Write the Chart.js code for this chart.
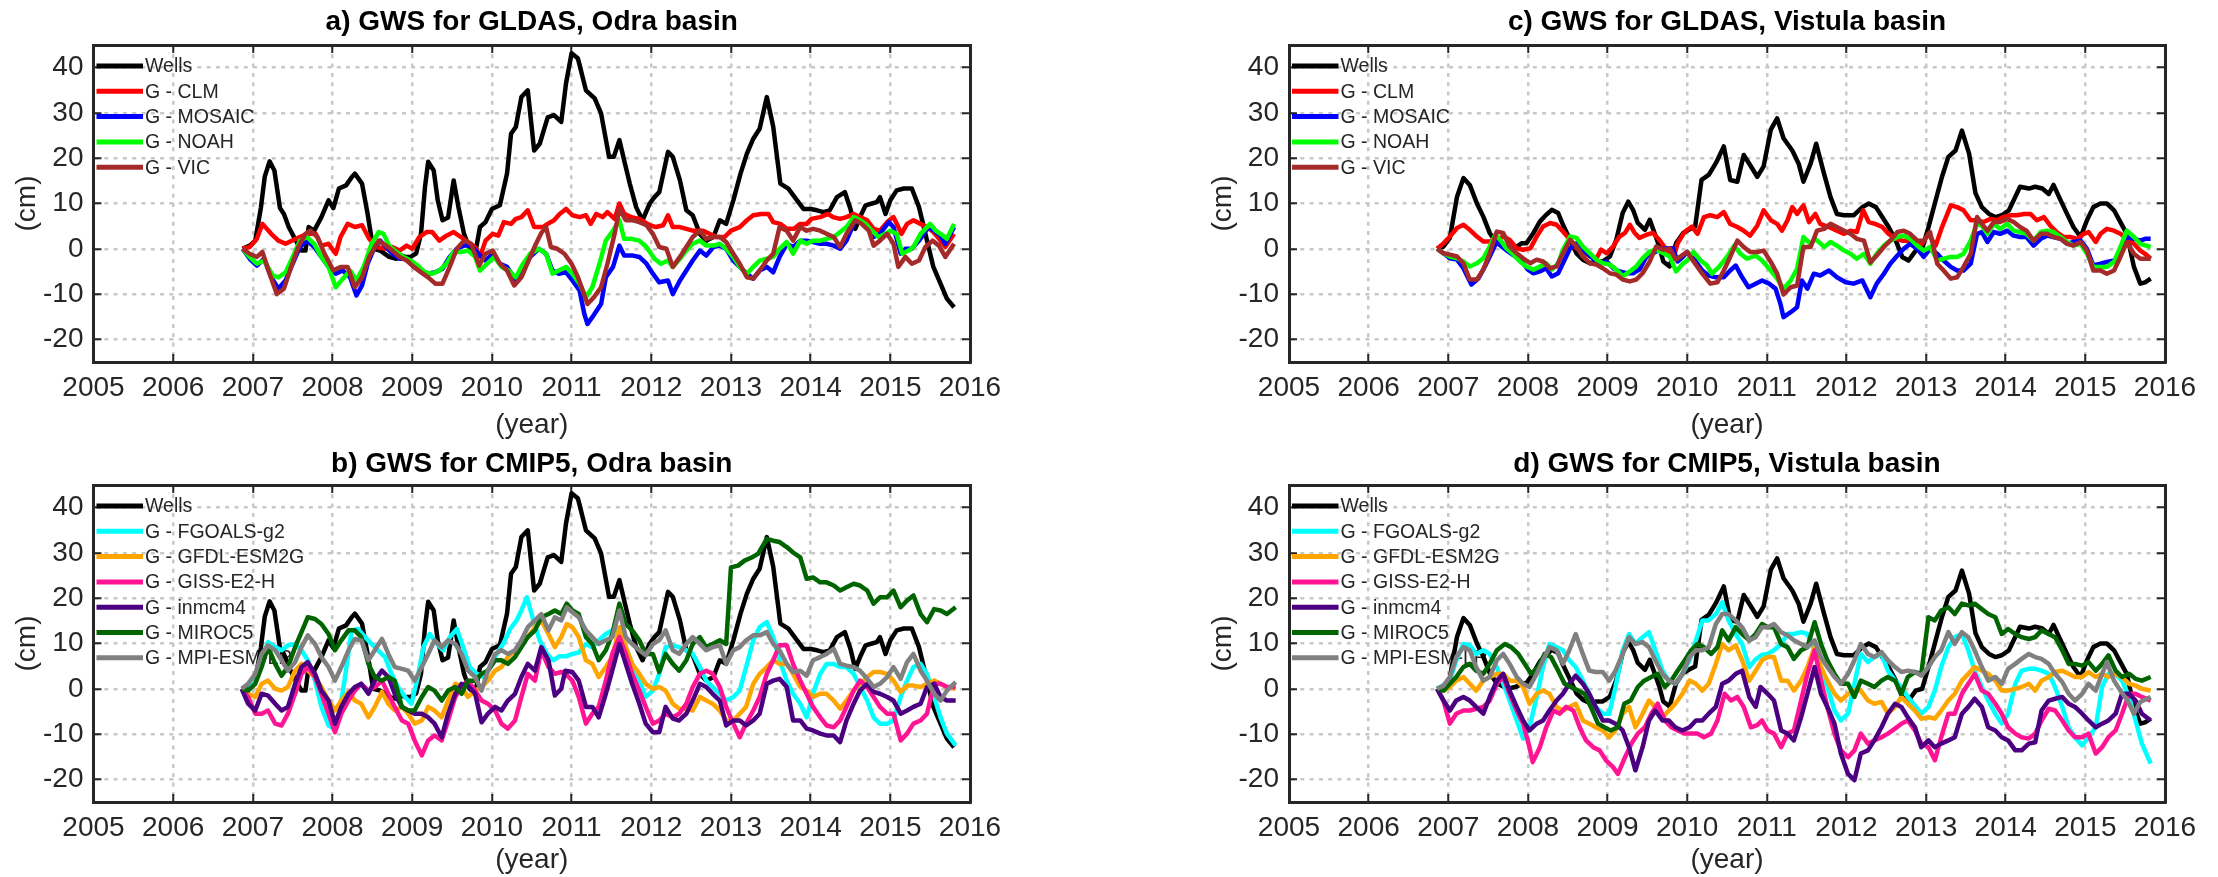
<!DOCTYPE html>
<html>
<head>
<meta charset="utf-8">
<script src="https://cdn.jsdelivr.net/npm/chart.js@4.4.1/dist/chart.umd.min.js"></script>
<style>
html,body{margin:0;padding:0;background:#fff;overflow:hidden;width:2218px;height:877px;}
.wrap{position:absolute;}
</style>
</head>
<body>
<div class="wrap" style="left:0;top:0;width:1109px;height:442px"><canvas id="ca"></canvas></div>
<div class="wrap" style="left:1196px;top:0;width:1022px;height:442px"><canvas id="cc"></canvas></div>
<div class="wrap" style="left:0;top:442px;width:1109px;height:435px"><canvas id="cb"></canvas></div>
<div class="wrap" style="left:1196px;top:442px;width:1022px;height:435px"><canvas id="cd"></canvas></div>
<script>
// ---------- tick labels / categories ----------
const yearTicks = [2005,2006,2007,2008,2009,2010,2011,2012,2013,2014,2015,2016];
const cmTicks = [-20,-10,0,10,20,30,40];
const gldasLabels = ['Wells','G - CLM','G - MOSAIC','G - NOAH','G - VIC'];
const cmipLabels = ['Wells','G - FGOALS-g2','G - GFDL-ESM2G','G - GISS-E2-H','G - inmcm4','G - MIROC5','G - MPI-ESM-LR'];
const panelTitles = ['a) GWS for GLDAS, Odra basin','b) GWS for CMIP5, Odra basin','c) GWS for GLDAS, Vistula basin','d) GWS for CMIP5, Vistula basin'];

// ---------- series values: [year, cm] ----------
const odraWells = [[2006.87,0],[2006.96,0.7],[2007.03,1.8],[2007.10,9],[2007.15,16],[2007.21,19.3],[2007.27,17.3],[2007.34,9],[2007.39,7.7],[2007.45,4.8],[2007.54,1.8],[2007.61,-0.4],[2007.66,-0.4],[2007.70,4.8],[2007.77,4],[2007.86,7],[2007.95,10.7],[2008.01,9],[2008.08,13.3],[2008.17,14],[2008.24,15.8],[2008.28,16.6],[2008.37,14.4],[2008.44,7.7],[2008.51,0],[2008.60,-0.4],[2008.71,-1.8],[2008.80,-2.2],[2008.87,-1.5],[2008.91,-1.8],[2008.98,-1.8],[2009.05,-1],[2009.11,3.3],[2009.16,13.6],[2009.20,19.2],[2009.27,17.3],[2009.32,10.7],[2009.38,6.3],[2009.45,6.9],[2009.52,15.1],[2009.58,9.2],[2009.65,3.3],[2009.72,0],[2009.79,-1.1],[2009.85,4.8],[2009.92,5.9],[2010.0,8.8],[2010.1,9.6],[2010.19,16.6],[2010.24,25.4],[2010.30,26.9],[2010.37,33.5],[2010.45,35],[2010.53,21.7],[2010.60,23.2],[2010.70,29],[2010.78,29.5],[2010.87,28],[2010.93,36.5],[2011.0,43.2],[2011.08,42],[2011.18,35],[2011.29,33.2],[2011.37,29.9],[2011.47,20.3],[2011.53,20.3],[2011.60,24],[2011.66,19.5],[2011.73,14.4],[2011.81,9.2],[2011.89,6.3],[2011.98,10],[2012.04,11.4],[2012.10,12.5],[2012.21,21.4],[2012.27,20.3],[2012.36,15.1],[2012.44,8.5],[2012.52,7.4],[2012.61,3.3],[2012.69,1.8],[2012.78,2.6],[2012.86,6.3],[2012.94,5.5],[2013.03,10.7],[2013.12,16.6],[2013.20,21],[2013.28,24.3],[2013.36,26.5],[2013.45,33.5],[2013.53,27],[2013.62,14.4],[2013.72,13.3],[2013.83,10.7],[2013.91,8.8],[2014.0,8.8],[2014.08,8.5],[2014.16,8.1],[2014.24,8.5],[2014.33,11.4],[2014.43,12.5],[2014.50,8.8],[2014.56,4.4],[2014.62,7],[2014.69,9.6],[2014.77,10],[2014.83,10.3],[2014.87,11.4],[2014.94,7.7],[2015.0,10.7],[2015.08,12.9],[2015.17,13.3],[2015.27,13.3],[2015.36,9.2],[2015.44,3.3],[2015.54,-4],[2015.63,-7.7],[2015.71,-11],[2015.80,-12.9]];
const odraCLM = [[2006.87,0],[2006.96,0.4],[2007.05,2.2],[2007.12,5.5],[2007.23,3.3],[2007.32,1.8],[2007.41,1.1],[2007.54,2.2],[2007.68,3.3],[2007.79,3.3],[2007.86,0.7],[2007.95,1.1],[2008.04,-1.1],[2008.10,2.6],[2008.19,5.5],[2008.28,4.8],[2008.37,5.2],[2008.46,2.2],[2008.55,0.4],[2008.66,0],[2008.75,0.4],[2008.84,-0.4],[2008.93,0.7],[2009.0,0],[2009.09,2.6],[2009.18,3.7],[2009.25,3.7],[2009.34,1.8],[2009.43,2.9],[2009.52,3.7],[2009.61,2.6],[2009.70,1.5],[2009.79,0.4],[2009.85,-1.8],[2009.92,1.8],[2010.01,3.3],[2010.08,2.9],[2010.15,5.9],[2010.24,5.5],[2010.30,6.6],[2010.37,7],[2010.45,8.5],[2010.53,4.8],[2010.64,4.8],[2010.70,5.5],[2010.78,6.3],[2010.85,7.7],[2010.93,8.8],[2011.01,7.4],[2011.10,7],[2011.18,7.4],[2011.24,5.5],[2011.31,7.7],[2011.39,7],[2011.45,8.1],[2011.54,6.6],[2011.60,10],[2011.66,7.7],[2011.75,7],[2011.85,6.6],[2011.98,5.2],[2012.06,4.8],[2012.15,5.2],[2012.21,7.4],[2012.27,4.8],[2012.36,4.8],[2012.44,4.4],[2012.52,4],[2012.65,4],[2012.73,3.3],[2012.82,2.6],[2012.92,2.6],[2013.0,4],[2013.11,4.8],[2013.20,6.3],[2013.28,7.4],[2013.38,7.7],[2013.47,7.7],[2013.53,5.9],[2013.62,5.5],[2013.70,4.4],[2013.79,4.4],[2013.87,5.5],[2013.95,5.5],[2014.01,6.6],[2014.12,7],[2014.22,7.7],[2014.28,7],[2014.37,6.6],[2014.45,7],[2014.54,7.7],[2014.62,7],[2014.71,6.3],[2014.79,4.4],[2014.87,4],[2014.96,5.9],[2015.04,7],[2015.10,4.8],[2015.14,3.3],[2015.21,5.5],[2015.29,6.3],[2015.38,5.5],[2015.46,4.8],[2015.54,3.7],[2015.63,1.8],[2015.69,0.4],[2015.80,3.3]];
const odraMOSAIC = [[2006.87,0],[2006.96,-2.2],[2007.05,-3.7],[2007.14,-2.2],[2007.23,-6.3],[2007.32,-8.8],[2007.41,-7],[2007.50,-3.3],[2007.59,0.4],[2007.68,1.8],[2007.77,0.4],[2007.86,-1.8],[2007.95,-4],[2008.04,-5.5],[2008.13,-4.8],[2008.22,-6.3],[2008.30,-10.3],[2008.37,-8.1],[2008.44,-3.3],[2008.53,0.4],[2008.60,1.8],[2008.67,0.4],[2008.75,-1.1],[2008.84,-2.2],[2008.93,-2.2],[2009.02,-4],[2009.11,-4.8],[2009.20,-5.5],[2009.29,-5.2],[2009.38,-4.4],[2009.47,-1.8],[2009.56,0],[2009.65,0.7],[2009.74,0.7],[2009.83,-1.1],[2009.92,-2.6],[2010.01,-1.1],[2010.10,-3.3],[2010.19,-4],[2010.30,-7],[2010.39,-4],[2010.48,-1.8],[2010.59,0],[2010.68,-1.1],[2010.76,-4.8],[2010.84,-5.5],[2010.93,-5.2],[2011.01,-7],[2011.10,-9.2],[2011.16,-14.4],[2011.20,-16.6],[2011.26,-15.1],[2011.37,-12.2],[2011.43,-6.3],[2011.52,-4],[2011.60,0.7],[2011.66,-1.5],[2011.77,-1.5],[2011.85,-1.8],[2011.94,-3.3],[2012.02,-5.5],[2012.10,-7.4],[2012.21,-7],[2012.27,-10],[2012.36,-7],[2012.44,-4.8],[2012.52,-2.6],[2012.61,-0.4],[2012.69,-1.5],[2012.78,0.4],[2012.86,0.7],[2012.94,0],[2013.03,-2.6],[2013.11,-4],[2013.20,-5.5],[2013.28,-6.6],[2013.36,-4.8],[2013.45,-4],[2013.53,-5.2],[2013.61,-1.8],[2013.70,1.1],[2013.78,0.4],[2013.87,1.8],[2013.95,1.8],[2014.03,1.5],[2014.12,1.1],[2014.20,1.1],[2014.29,0.7],[2014.37,0],[2014.45,1.8],[2014.56,6.3],[2014.64,5.9],[2014.73,4.8],[2014.79,2.6],[2014.87,3.3],[2014.98,5.9],[2015.04,4.8],[2015.13,-1.1],[2015.19,0],[2015.27,0],[2015.36,1.8],[2015.48,4.8],[2015.55,4],[2015.63,2.9],[2015.69,1.1],[2015.80,4.8]];
const odraNOAH = [[2006.87,0],[2006.96,-1.8],[2007.05,-3.3],[2007.14,-2.6],[2007.25,-5.9],[2007.32,-6.3],[2007.41,-5.2],[2007.50,-1.8],[2007.59,1.8],[2007.68,2.6],[2007.77,1.1],[2007.86,-1.8],[2007.95,-4],[2008.04,-8.5],[2008.13,-6.6],[2008.22,-4.8],[2008.30,-7],[2008.39,-4],[2008.49,1.1],[2008.58,3.7],[2008.64,3.3],[2008.71,0.7],[2008.80,-0.7],[2008.89,-1.8],[2008.98,-2.6],[2009.07,-3.7],[2009.16,-5.2],[2009.25,-5.5],[2009.34,-4.8],[2009.43,-3.3],[2009.52,-0.7],[2009.61,-0.7],[2009.70,-0.4],[2009.79,-1.8],[2009.85,-4.8],[2009.94,-3.3],[2010.03,-1.8],[2010.12,-4],[2010.21,-4.8],[2010.30,-6.3],[2010.39,-3.3],[2010.48,-1.1],[2010.59,0],[2010.68,-1.1],[2010.76,-5.5],[2010.84,-4.8],[2010.93,-4],[2011.01,-5.5],[2011.10,-7.7],[2011.18,-10.7],[2011.26,-8.5],[2011.35,-3.3],[2011.43,1.8],[2011.52,4],[2011.60,6.3],[2011.66,2.2],[2011.75,2.2],[2011.85,1.8],[2011.94,0.4],[2012.04,-2.2],[2012.12,-3.3],[2012.21,-2.6],[2012.27,-4],[2012.36,-2.2],[2012.44,-0.4],[2012.52,1.1],[2012.61,1.8],[2012.69,0.7],[2012.78,0.7],[2012.86,1.1],[2012.94,0],[2013.03,-1.8],[2013.11,-4],[2013.20,-5.5],[2013.28,-4],[2013.36,-2.6],[2013.45,-2.2],[2013.53,-1.8],[2013.61,0],[2013.70,1.5],[2013.78,-1.1],[2013.87,1.8],[2013.95,1.1],[2014.03,1.8],[2014.12,1.8],[2014.20,2.2],[2014.29,2.6],[2014.37,3.7],[2014.45,4.8],[2014.54,7],[2014.62,6.3],[2014.69,5.5],[2014.77,4],[2014.85,2.6],[2014.94,3.3],[2015.0,4],[2015.08,3.3],[2015.15,-1.1],[2015.23,-0.4],[2015.29,0.4],[2015.38,3.3],[2015.50,5.5],[2015.57,4],[2015.63,3.3],[2015.71,2.2],[2015.80,5.5]];
const odraVIC = [[2006.87,0],[2006.96,-1.1],[2007.05,-1.8],[2007.12,-0.7],[2007.21,-5.5],[2007.30,-10],[2007.39,-8.8],[2007.48,-4],[2007.57,0.4],[2007.66,3.3],[2007.72,4],[2007.81,2.6],[2007.90,-1.1],[2008.01,-4.8],[2008.10,-4],[2008.19,-4],[2008.28,-8.5],[2008.37,-6.3],[2008.46,-1.8],[2008.58,1.8],[2008.67,0.7],[2008.75,-0.4],[2008.84,-1.8],[2008.93,-2.6],[2009.02,-4],[2009.11,-5.2],[2009.20,-6.3],[2009.29,-7.7],[2009.38,-7.7],[2009.47,-4],[2009.56,0],[2009.65,1.8],[2009.74,1.1],[2009.84,-3.7],[2009.92,-1.1],[2010.01,-0.4],[2010.10,-3.3],[2010.19,-4.8],[2010.28,-8.1],[2010.37,-6.3],[2010.46,-2.6],[2010.55,1],[2010.62,3.5],[2010.68,4.8],[2010.74,0.4],[2010.82,0],[2010.91,-1.1],[2011.0,-3.3],[2011.08,-6.3],[2011.14,-9.2],[2011.20,-12.2],[2011.28,-10.7],[2011.37,-8.5],[2011.45,-3.3],[2011.54,3.3],[2011.60,8.8],[2011.68,6.3],[2011.77,6.3],[2011.85,5.9],[2011.94,5.2],[2012.02,3.3],[2012.10,0.4],[2012.19,0],[2012.27,-4],[2012.36,-1.8],[2012.44,0.4],[2012.52,2.6],[2012.61,4],[2012.69,2.2],[2012.78,2.6],[2012.86,2.6],[2012.94,1.5],[2013.03,-1.1],[2013.11,-3.3],[2013.20,-6.3],[2013.28,-6.6],[2013.36,-4.8],[2013.45,-2.6],[2013.53,-1.1],[2013.61,4.8],[2013.70,4],[2013.78,1.8],[2013.87,4.8],[2013.95,4],[2014.03,4.4],[2014.12,4],[2014.20,3.3],[2014.29,2.6],[2014.37,0.4],[2014.45,3.3],[2014.56,6.3],[2014.64,5.5],[2014.73,4],[2014.79,0.7],[2014.87,1.8],[2014.96,3.3],[2015.04,1.1],[2015.10,-4],[2015.19,-1.8],[2015.27,-3.3],[2015.36,-2.6],[2015.44,0.4],[2015.53,1.8],[2015.61,0.7],[2015.69,-1.8],[2015.80,1.1]];

const vistWells = [[2006.86,0],[2006.94,0.5],[2007.02,2.4],[2007.11,11.5],[2007.19,15.6],[2007.27,14.1],[2007.36,10],[2007.44,7.1],[2007.52,3.5],[2007.61,1.2],[2007.69,0.5],[2007.77,0.1],[2007.86,0.5],[2007.92,1.2],[2007.98,1.2],[2008.07,3.5],[2008.15,6],[2008.23,7.5],[2008.30,8.6],[2008.38,7.9],[2008.44,5.3],[2008.53,2],[2008.61,-1],[2008.69,-2.4],[2008.78,-3.2],[2008.86,-2.8],[2008.94,-2.8],[2009.03,-1.7],[2009.11,2],[2009.19,7.9],[2009.26,10.4],[2009.32,8.6],[2009.38,5.7],[2009.47,4.2],[2009.53,6.4],[2009.59,3.5],[2009.65,0.5],[2009.70,-2.8],[2009.78,-3.9],[2009.86,1.2],[2009.95,3.5],[2010.02,4.2],[2010.10,4.9],[2010.18,15.2],[2010.27,16.3],[2010.36,18.9],[2010.46,22.6],[2010.54,15.2],[2010.63,14.8],[2010.71,20.7],[2010.79,18.5],[2010.88,15.9],[2010.96,18.2],[2011.05,26.3],[2011.13,28.8],[2011.21,24.4],[2011.32,21.7],[2011.40,18.8],[2011.46,14.8],[2011.55,18.8],[2011.62,23.2],[2011.72,16.5],[2011.80,11.4],[2011.88,7.7],[2011.97,7.4],[2012.09,7.4],[2012.20,9.2],[2012.28,10],[2012.37,9.2],[2012.45,7],[2012.53,4.8],[2012.62,1.8],[2012.70,-1.8],[2012.78,-2.6],[2012.87,-0.4],[2012.95,0],[2013.03,4.8],[2013.12,10.7],[2013.20,15.9],[2013.28,20.3],[2013.37,21.7],[2013.45,26.1],[2013.54,21],[2013.62,12.3],[2013.70,9.2],[2013.79,7.7],[2013.87,7],[2013.95,7.4],[2014.04,8.5],[2014.10,10.7],[2014.18,13.7],[2014.29,13.3],[2014.37,13.7],[2014.46,13.3],[2014.54,12.1],[2014.60,14.1],[2014.69,10.7],[2014.77,7.7],[2014.85,4.8],[2014.94,2.6],[2015.02,6.3],[2015.10,9.2],[2015.19,10],[2015.27,10],[2015.36,8.5],[2015.44,5.9],[2015.52,3.3],[2015.61,-4],[2015.69,-7.7],[2015.75,-7.4],[2015.82,-6.6]];
const vistCLM = [[2006.86,0],[2006.94,1.2],[2007.02,2.7],[2007.11,4.6],[2007.19,5.3],[2007.27,4.2],[2007.36,2.7],[2007.44,1.6],[2007.52,1.6],[2007.61,2],[2007.69,2.7],[2007.77,2],[2007.86,0.1],[2007.94,-0.2],[2008.03,0.1],[2008.11,2.7],[2008.19,4.9],[2008.28,5.7],[2008.36,5.3],[2008.44,3.8],[2008.53,2],[2008.61,0.1],[2008.69,-0.6],[2008.78,-1.7],[2008.86,-2.1],[2008.92,-0.2],[2008.99,-1],[2009.07,0.5],[2009.15,2.7],[2009.22,3.5],[2009.28,5.3],[2009.34,3.5],[2009.40,2.4],[2009.49,3.1],[2009.57,3.5],[2009.65,2],[2009.74,-0.2],[2009.82,-2.4],[2009.88,1.2],[2009.96,3.5],[2010.0,4.2],[2010.06,4.9],[2010.13,3.3],[2010.21,7],[2010.29,7.4],[2010.38,7],[2010.46,8.1],[2010.54,5.5],[2010.63,4.8],[2010.71,4],[2010.79,2.9],[2010.88,5.1],[2010.96,8.5],[2011.05,6.3],[2011.13,5.5],[2011.19,4],[2011.26,6.3],[2011.32,9.2],[2011.38,7.7],[2011.46,9.6],[2011.53,5.9],[2011.61,7.7],[2011.67,5.5],[2011.78,4.8],[2011.88,4],[2011.97,3.3],[2012.05,4],[2012.13,3.7],[2012.21,8.5],[2012.28,5.9],[2012.36,5.5],[2012.45,4.8],[2012.53,3.3],[2012.62,2.2],[2012.70,1.8],[2012.78,1.8],[2012.87,1.8],[2012.95,1.1],[2013.03,3.3],[2013.12,0.7],[2013.20,4.8],[2013.31,9.6],[2013.39,9.2],[2013.47,8.5],[2013.56,6.3],[2013.64,6.3],[2013.72,5.9],[2013.81,6.6],[2013.89,6.3],[2013.97,7],[2014.06,7.4],[2014.14,7.4],[2014.23,7.7],[2014.31,7.7],[2014.39,6.3],[2014.48,7],[2014.56,5.1],[2014.64,3.7],[2014.73,2.6],[2014.81,2.6],[2014.90,2.2],[2014.98,3.3],[2015.04,3.7],[2015.13,1.5],[2015.19,3.3],[2015.27,4.4],[2015.36,4],[2015.44,3.3],[2015.52,2.2],[2015.61,1.1],[2015.69,-0.4],[2015.75,-1.1],[2015.82,-2.2]];
const vistMOSAIC = [[2006.86,0],[2006.94,-1],[2007.02,-2.1],[2007.11,-2.4],[2007.19,-4.3],[2007.29,-7.9],[2007.38,-6.5],[2007.46,-3.9],[2007.54,-1],[2007.61,1.6],[2007.67,0.5],[2007.75,-0.6],[2007.84,-1.7],[2007.92,-2.8],[2008.0,-4.6],[2008.07,-5.4],[2008.15,-5],[2008.23,-4.3],[2008.30,-6.1],[2008.38,-5.4],[2008.44,-3.2],[2008.53,0.1],[2008.61,1.2],[2008.67,0.1],[2008.76,-1.3],[2008.84,-2.4],[2008.90,-3.2],[2008.99,-2.8],[2009.07,-4.3],[2009.15,-5],[2009.24,-5.4],[2009.32,-5.4],[2009.40,-4.6],[2009.49,-1.7],[2009.57,-1],[2009.65,-0.2],[2009.74,0.1],[2009.82,0.1],[2009.88,-2.8],[2009.95,-1.7],[2010.0,-0.7],[2010.10,-2.6],[2010.19,-4.8],[2010.27,-5.9],[2010.36,-6.3],[2010.46,-6.3],[2010.54,-4.8],[2010.61,-3.7],[2010.69,-6.3],[2010.77,-8.5],[2010.86,-7.7],[2010.94,-7],[2011.03,-7.7],[2011.11,-8.8],[2011.17,-12.1],[2011.21,-15.1],[2011.30,-14],[2011.38,-12.9],[2011.44,-7],[2011.51,-8.8],[2011.59,-5.5],[2011.67,-5.9],[2011.78,-4.8],[2011.88,-6.3],[2011.99,-7.4],[2012.09,-7.7],[2012.20,-7],[2012.30,-10.7],[2012.38,-7.7],[2012.47,-5.5],[2012.55,-3.3],[2012.64,-1.5],[2012.72,0],[2012.80,1.1],[2012.89,0],[2012.97,-1.8],[2013.05,0],[2013.14,-1.1],[2013.22,-2.6],[2013.31,-4],[2013.39,-4.8],[2013.47,-4.8],[2013.56,-3.3],[2013.64,3.3],[2013.70,3.7],[2013.77,1.5],[2013.85,3.7],[2013.93,3.3],[2014.02,4],[2014.10,2.9],[2014.18,2.6],[2014.26,2.6],[2014.35,0.7],[2014.44,2.2],[2014.52,2.9],[2014.60,2.6],[2014.69,2.2],[2014.77,1.1],[2014.85,1.5],[2014.94,1.8],[2015.02,0],[2015.10,-3.7],[2015.19,-3.3],[2015.27,-2.9],[2015.36,-2.6],[2015.44,-1.1],[2015.52,2.6],[2015.61,2.2],[2015.69,1.8],[2015.75,2.2],[2015.82,2.2]];
const vistNOAH = [[2006.86,0],[2006.94,-1],[2007.02,-1.7],[2007.11,-2.1],[2007.19,-2.8],[2007.27,-3.9],[2007.36,-3.2],[2007.44,-2.1],[2007.52,0.5],[2007.59,3.1],[2007.65,2],[2007.73,0.1],[2007.82,-1.3],[2007.90,-2.8],[2007.98,-3.9],[2008.07,-4.6],[2008.15,-3.9],[2008.23,-3.2],[2008.30,-4.6],[2008.38,-3.2],[2008.44,-0.2],[2008.53,2.7],[2008.61,2.4],[2008.69,0.5],[2008.78,-1],[2008.86,-2.4],[2008.94,-3.2],[2009.03,-3.5],[2009.11,-4.6],[2009.19,-6.1],[2009.28,-5],[2009.36,-3.9],[2009.44,-2.1],[2009.53,-0.6],[2009.61,-0.2],[2009.70,-1],[2009.78,-1.7],[2009.86,-5],[2009.95,-3.2],[2010.0,-2.6],[2010.08,-0.7],[2010.17,-2.6],[2010.25,-3.7],[2010.31,-5.5],[2010.40,-4],[2010.50,-1.8],[2010.59,0.7],[2010.67,-1.1],[2010.75,-2.2],[2010.86,-1.5],[2010.94,-2.6],[2011.05,-4.8],[2011.13,-6.6],[2011.21,-8.8],[2011.30,-7],[2011.38,-4.4],[2011.46,2.6],[2011.55,1.1],[2011.61,2.2],[2011.72,0.4],[2011.80,1.5],[2011.88,0.7],[2011.97,-0.4],[2012.05,-1.1],[2012.13,-2.2],[2012.22,-1.1],[2012.30,-3.3],[2012.38,-1.1],[2012.47,0.7],[2012.55,1.8],[2012.64,2.6],[2012.72,2.9],[2012.80,2.2],[2012.89,0.7],[2012.97,-0.4],[2013.05,0.4],[2013.14,-2.6],[2013.22,-2.2],[2013.31,-1.8],[2013.39,-1.8],[2013.47,-1.1],[2013.56,1.8],[2013.64,5.5],[2013.70,5.1],[2013.77,3.3],[2013.85,5.5],[2013.93,4.4],[2014.02,5.5],[2014.10,4],[2014.18,3.7],[2014.26,3.3],[2014.35,1.8],[2014.44,3.7],[2014.52,4],[2014.60,3.7],[2014.69,2.6],[2014.77,1.5],[2014.85,0.7],[2014.94,1.1],[2015.02,-1.1],[2015.10,-4],[2015.19,-4],[2015.27,-4],[2015.36,-2.9],[2015.44,0.4],[2015.52,4],[2015.61,2.6],[2015.69,1.1],[2015.82,0.4]];
const vistVIC = [[2006.86,0],[2006.94,-1],[2007.02,-1.3],[2007.11,-1.7],[2007.19,-3.2],[2007.27,-6.8],[2007.36,-6.8],[2007.44,-4.6],[2007.52,-1],[2007.61,3.8],[2007.69,3.5],[2007.77,0.5],[2007.86,-1],[2007.94,-2.1],[2008.03,-3.2],[2008.11,-2.4],[2008.19,-2.8],[2008.28,-4.3],[2008.36,-3.9],[2008.44,-1],[2008.53,2],[2008.61,0.5],[2008.69,-1.7],[2008.78,-3.2],[2008.86,-3.5],[2008.94,-4.3],[2009.03,-5.4],[2009.11,-5.7],[2009.19,-6.8],[2009.28,-7.2],[2009.36,-6.8],[2009.44,-5.4],[2009.53,-2.8],[2009.61,0.5],[2009.70,-0.2],[2009.78,0.1],[2009.86,-2.4],[2009.95,-1.3],[2010.0,-0.7],[2010.10,-3.3],[2010.19,-5.5],[2010.29,-7.7],[2010.38,-7.4],[2010.46,-4.8],[2010.54,-1.8],[2010.63,1.8],[2010.71,0.4],[2010.79,-0.7],[2010.88,-0.7],[2010.96,-0.4],[2011.05,-2.9],[2011.13,-5.5],[2011.21,-10.1],[2011.30,-8.5],[2011.38,-8.1],[2011.46,0.4],[2011.55,0.4],[2011.63,4],[2011.72,4.4],[2011.80,5.5],[2011.88,4.8],[2011.97,4],[2012.05,3.3],[2012.13,2.2],[2012.22,1.8],[2012.30,-3],[2012.38,-1.5],[2012.47,0.4],[2012.55,1.8],[2012.64,3.7],[2012.72,4],[2012.80,3.3],[2012.89,1.8],[2012.97,1.8],[2013.05,3.7],[2013.14,-3.3],[2013.22,-4.8],[2013.31,-6.6],[2013.39,-6.3],[2013.47,-4],[2013.56,-1.1],[2013.64,7],[2013.70,5.5],[2013.77,4],[2013.85,5.9],[2013.93,5.9],[2014.02,6.6],[2014.10,5.9],[2014.18,4.8],[2014.26,4],[2014.35,1.8],[2014.44,3.3],[2014.52,3.3],[2014.60,2.6],[2014.69,2.2],[2014.77,1.1],[2014.85,0.7],[2014.94,1.5],[2015.02,-0.4],[2015.10,-4.8],[2015.19,-4.8],[2015.27,-5.5],[2015.36,-4.8],[2015.44,-1.8],[2015.52,1.5],[2015.61,-1.1],[2015.69,-2.2],[2015.82,-2.2]];

const odraFGOALS = [[2006.86,0],[2006.94,-0.4],[2007.03,1.8],[2007.11,6.3],[2007.19,10.3],[2007.28,9.2],[2007.36,8.5],[2007.44,9.6],[2007.53,9.9],[2007.61,8.5],[2007.69,6.3],[2007.78,1.8],[2007.86,-4],[2007.95,-8.1],[2007.99,-8.5],[2008.07,-7],[2008.15,1.8],[2008.24,12.9],[2008.32,13.2],[2008.41,11.4],[2008.49,9.9],[2008.57,8.5],[2008.66,7],[2008.74,3.3],[2008.82,0.4],[2008.91,-1.8],[2008.99,-3.3],[2009.07,2.6],[2009.14,9.2],[2009.22,12.1],[2009.31,9.9],[2009.39,8.5],[2009.47,11.4],[2009.56,13.2],[2009.64,9.2],[2009.72,4.8],[2009.81,3.3],[2009.89,2.6],[2009.98,4.8],[2010.06,7.7],[2010.14,9.9],[2010.23,13.2],[2010.31,15.1],[2010.37,17.3],[2010.44,20.2],[2010.52,15.1],[2010.60,10.7],[2010.69,7.7],[2010.77,6.3],[2010.85,7.2],[2010.94,7.2],[2011.01,7.7],[2011.09,8],[2011.18,9.9],[2011.26,9.2],[2011.34,10.7],[2011.43,12.1],[2011.51,12.9],[2011.60,13.6],[2011.68,9.2],[2011.76,5.5],[2011.85,1.8],[2011.93,-1.8],[2012.02,-0.4],[2012.10,3.3],[2012.18,9.2],[2012.27,9.6],[2012.35,9.2],[2012.44,8.5],[2012.52,7.7],[2012.61,4.8],[2012.69,1.8],[2012.77,0.4],[2012.86,-1.1],[2012.94,-2.6],[2013.03,-1.8],[2013.11,-0.4],[2013.19,4.8],[2013.28,10.7],[2013.36,13.6],[2013.45,14.7],[2013.53,11.4],[2013.61,6.3],[2013.70,1.8],[2013.78,-1.1],[2013.87,-3.3],[2013.95,-6.3],[2014.03,-1.1],[2014.12,3.3],[2014.20,5.5],[2014.29,5.5],[2014.37,4.8],[2014.45,4.8],[2014.54,3.3],[2014.62,0.4],[2014.71,-2.6],[2014.79,-6.3],[2014.87,-7.7],[2014.96,-7.7],[2015.04,-7],[2015.13,-1.8],[2015.21,1.8],[2015.29,4.8],[2015.38,5.5],[2015.46,3.3],[2015.55,-1.8],[2015.63,-6.3],[2015.71,-9.9],[2015.82,-12.5]];
const odraGFDL = [[2006.86,0],[2006.94,-1.1],[2007.03,-1.8],[2007.11,1.1],[2007.19,1.8],[2007.28,0],[2007.36,-0.4],[2007.44,0.4],[2007.53,4],[2007.61,5.5],[2007.69,4],[2007.78,2.6],[2007.86,0.4],[2007.95,-2.6],[2008.03,-4.8],[2008.11,-2.6],[2008.20,-0.7],[2008.28,-2.6],[2008.36,-3.3],[2008.45,-6.3],[2008.53,-4],[2008.62,-0.7],[2008.70,-3.3],[2008.78,-4.8],[2008.87,-4],[2008.95,-5.5],[2009.03,-7.7],[2009.12,-7],[2009.20,-4],[2009.28,-4.8],[2009.37,-6.3],[2009.45,-2.6],[2009.54,1.1],[2009.62,0.4],[2009.70,-1.8],[2009.79,-0.4],[2009.87,0.4],[2009.95,1.8],[2010.04,4],[2010.12,4.8],[2010.20,7],[2010.29,8.5],[2010.37,9.9],[2010.45,11.4],[2010.54,13.6],[2010.62,15.1],[2010.71,12.1],[2010.79,9.2],[2010.87,11.4],[2010.94,14.3],[2011.01,13.6],[2011.09,11.4],[2011.18,6.3],[2011.26,5.5],[2011.34,2.6],[2011.43,4.8],[2011.51,7],[2011.60,13.6],[2011.68,9.2],[2011.76,5.5],[2011.85,3.3],[2011.93,1.1],[2012.02,0],[2012.10,0.4],[2012.18,-0.4],[2012.27,-3.3],[2012.35,-4.4],[2012.44,-4.4],[2012.52,-4.8],[2012.61,-1.8],[2012.69,-2.6],[2012.77,-3.3],[2012.86,-4.8],[2012.94,-7],[2013.03,-7],[2013.11,-5.5],[2013.19,-4],[2013.28,1.1],[2013.36,3.3],[2013.45,4.8],[2013.53,6.3],[2013.61,5.5],[2013.70,5.5],[2013.78,3.3],[2013.87,0.4],[2013.95,-0.4],[2014.03,-1.8],[2014.12,-1.1],[2014.20,-1.1],[2014.29,-2.6],[2014.37,-4.4],[2014.45,-2.6],[2014.54,-0.4],[2014.62,1.1],[2014.71,2.6],[2014.79,3.7],[2014.87,3.7],[2014.96,3.3],[2015.04,1.8],[2015.13,-0.7],[2015.21,0.7],[2015.29,0.7],[2015.38,0.4],[2015.46,1.1],[2015.55,1.8],[2015.63,1.1],[2015.71,0.4],[2015.82,0]];
const odraGISS = [[2006.86,0],[2006.94,-1.8],[2007.03,-5.5],[2007.11,-5.5],[2007.19,-4.8],[2007.28,-7.7],[2007.36,-8.1],[2007.44,-5.5],[2007.53,-1.1],[2007.61,3.3],[2007.69,4.8],[2007.78,2.6],[2007.86,-1.1],[2007.95,-5.5],[2008.03,-9.6],[2008.11,-5.5],[2008.20,-2.6],[2008.28,-0.4],[2008.36,1.1],[2008.45,-0.4],[2008.53,0.4],[2008.62,1.8],[2008.70,-1.1],[2008.78,-4],[2008.87,-7],[2008.95,-7.7],[2009.03,-11.4],[2009.12,-14.7],[2009.20,-11.4],[2009.28,-10.3],[2009.37,-11.4],[2009.45,-7],[2009.54,-1.8],[2009.62,0.4],[2009.70,1.8],[2009.79,-0.4],[2009.87,-2.6],[2009.95,-3.3],[2010.04,-4.8],[2010.12,-7.7],[2010.20,-8.8],[2010.29,-7],[2010.37,-1.8],[2010.45,3.3],[2010.54,1.8],[2010.62,8.5],[2010.71,4.8],[2010.79,3.3],[2010.87,3.7],[2010.94,3],[2011.01,1.8],[2011.09,-1.8],[2011.18,-7.7],[2011.26,-5.5],[2011.34,-4],[2011.43,1.8],[2011.51,7.7],[2011.60,11.4],[2011.68,7.7],[2011.76,3.3],[2011.85,-0.4],[2011.93,-4],[2012.02,-7.7],[2012.10,-7],[2012.18,-5.5],[2012.27,-6.3],[2012.35,-5.5],[2012.44,-3.3],[2012.52,0.4],[2012.61,3.3],[2012.69,4],[2012.77,3.3],[2012.86,0.4],[2012.94,-4],[2013.03,-7.7],[2013.11,-10.7],[2013.19,-7.7],[2013.28,-4.8],[2013.36,-1.8],[2013.45,3.3],[2013.53,6.3],[2013.61,9.6],[2013.70,9.6],[2013.78,5.5],[2013.87,1.8],[2013.95,-1.1],[2014.03,-4],[2014.12,-6.3],[2014.20,-8.1],[2014.29,-8.5],[2014.37,-7],[2014.45,-4],[2014.54,-0.4],[2014.62,1.8],[2014.71,0.4],[2014.79,-1.8],[2014.87,-4],[2014.96,-5.5],[2015.04,-5.5],[2015.13,-11.4],[2015.21,-9.9],[2015.29,-7.7],[2015.38,-7],[2015.46,-5.5],[2015.55,1.1],[2015.63,1.1],[2015.71,0.4],[2015.82,0.4]];
const odraINMCM4 = [[2006.86,0],[2006.94,-3.3],[2007.03,-4.8],[2007.11,-1.1],[2007.19,-1.5],[2007.28,-3.3],[2007.36,-4.8],[2007.44,-4],[2007.53,1.1],[2007.61,4.8],[2007.69,5.9],[2007.78,3.3],[2007.86,-0.4],[2007.95,-2.6],[2008.03,-7.7],[2008.11,-4],[2008.20,-1.1],[2008.28,0.4],[2008.36,1.1],[2008.45,-1.1],[2008.53,1.8],[2008.62,4],[2008.70,2.6],[2008.78,-1.1],[2008.87,-4],[2008.95,-4.8],[2009.03,-5.5],[2009.12,-5.5],[2009.20,-6.3],[2009.28,-7.7],[2009.37,-10.7],[2009.45,-5.5],[2009.54,-1.1],[2009.62,1.1],[2009.70,0.7],[2009.79,-1.1],[2009.87,-7.4],[2009.95,-5.5],[2010.04,-4],[2010.12,-4.8],[2010.20,-2.6],[2010.29,-1.1],[2010.37,2.6],[2010.45,5.5],[2010.54,4],[2010.62,9.2],[2010.71,6.3],[2010.79,-1.5],[2010.87,0],[2010.92,4],[2011.01,3.7],[2011.09,1.8],[2011.18,-4],[2011.26,-4],[2011.34,-6.3],[2011.43,-1.1],[2011.51,4],[2011.60,9.9],[2011.68,5.5],[2011.76,1.1],[2011.85,-3.3],[2011.93,-7.7],[2012.02,-9.6],[2012.10,-9.6],[2012.18,-4],[2012.27,-6.6],[2012.35,-7],[2012.44,-5.5],[2012.52,-2.6],[2012.61,1.1],[2012.69,0.4],[2012.77,-1.1],[2012.86,-2.6],[2012.94,-8.1],[2013.03,-7],[2013.11,-7],[2013.19,-8.1],[2013.28,-7],[2013.36,-5.5],[2013.45,1.1],[2013.53,1.8],[2013.61,2.2],[2013.70,0.4],[2013.78,-7],[2013.87,-7],[2013.95,-8.8],[2014.03,-9.2],[2014.12,-9.9],[2014.20,-10.3],[2014.29,-10.3],[2014.37,-11.8],[2014.45,-7],[2014.54,-3.3],[2014.62,-0.4],[2014.71,1.1],[2014.79,-0.7],[2014.87,-1.1],[2014.96,-1.8],[2015.04,-2.6],[2015.13,-5.5],[2015.21,-4.8],[2015.29,-4],[2015.38,-3.3],[2015.46,0.4],[2015.55,1.1],[2015.63,-1.8],[2015.71,-2.6],[2015.82,-2.6]];
const odraMIROC5 = [[2006.86,0],[2006.94,-0.4],[2007.03,1.1],[2007.11,4.8],[2007.19,9.2],[2007.28,5.5],[2007.36,2.9],[2007.44,4.8],[2007.53,9.2],[2007.61,12.5],[2007.69,15.8],[2007.78,15.4],[2007.86,14.3],[2007.95,12.1],[2008.03,8.5],[2008.11,10.7],[2008.20,12.9],[2008.28,12.9],[2008.36,11.4],[2008.45,5.5],[2008.53,2.6],[2008.62,1.8],[2008.70,2.6],[2008.78,1.8],[2008.87,-4],[2008.95,-4.8],[2009.03,-4.8],[2009.12,-1.8],[2009.20,0.4],[2009.28,-0.4],[2009.37,-2.6],[2009.45,-0.4],[2009.54,0.4],[2009.62,-1.1],[2009.70,1.8],[2009.79,1.8],[2009.87,3.3],[2009.95,4],[2010.04,6.3],[2010.12,6.3],[2010.20,5.5],[2010.29,7],[2010.37,9.2],[2010.45,11.4],[2010.54,12.9],[2010.62,15.8],[2010.71,16.5],[2010.79,17.3],[2010.87,16.5],[2010.94,18.8],[2011.01,17.3],[2011.09,16.5],[2011.18,11.4],[2011.26,9.9],[2011.34,6.3],[2011.43,8.5],[2011.51,12.1],[2011.60,18.8],[2011.68,14.3],[2011.76,12.9],[2011.85,10.7],[2011.93,7.7],[2012.02,7.7],[2012.10,3.7],[2012.18,7.7],[2012.27,5.5],[2012.35,4],[2012.44,6.3],[2012.52,9.9],[2012.61,11.4],[2012.69,9.2],[2012.77,9.9],[2012.86,10.7],[2012.94,9.9],[2013.00,26.8],[2013.09,27.2],[2013.17,28.3],[2013.26,29],[2013.34,29.8],[2013.45,33.1],[2013.53,32.7],[2013.61,32.4],[2013.70,31.3],[2013.78,30.1],[2013.87,29],[2013.95,24.3],[2014.03,24.6],[2014.12,23.5],[2014.20,23.5],[2014.29,22.8],[2014.37,21.7],[2014.45,22.4],[2014.54,23.2],[2014.62,22.8],[2014.71,21.7],[2014.79,18.8],[2014.87,20.2],[2014.96,20.2],[2015.04,21.7],[2015.13,18],[2015.21,19.5],[2015.29,20.6],[2015.38,16.5],[2015.46,14.7],[2015.55,17.6],[2015.63,17.3],[2015.71,16.5],[2015.82,18]];
const odraMPI = [[2006.86,0],[2006.94,1.1],[2007.03,3.3],[2007.11,7.7],[2007.19,9.6],[2007.28,8.5],[2007.36,6.3],[2007.44,4],[2007.53,5.9],[2007.61,9.2],[2007.69,11.8],[2007.78,9.9],[2007.86,7],[2007.95,4.8],[2008.03,1.8],[2008.11,4.8],[2008.20,8.5],[2008.28,11],[2008.36,10.7],[2008.45,6.3],[2008.53,8.5],[2008.62,11],[2008.70,7.7],[2008.78,4.8],[2008.87,4.4],[2008.95,4],[2009.03,1.8],[2009.12,4.8],[2009.20,7.7],[2009.28,10.7],[2009.37,9.2],[2009.45,10.7],[2009.54,9.9],[2009.62,7.7],[2009.70,4],[2009.79,2.6],[2009.87,-0.4],[2009.95,4],[2010.04,7.7],[2010.12,8.5],[2010.20,7.7],[2010.29,8.5],[2010.37,10.7],[2010.45,13.6],[2010.54,15.1],[2010.62,16.5],[2010.71,12.9],[2010.79,15.8],[2010.87,15.1],[2010.94,18],[2011.01,16.9],[2011.09,15.8],[2011.18,12.9],[2011.26,11.4],[2011.34,9.9],[2011.43,10.7],[2011.51,11.4],[2011.60,17.3],[2011.68,11.4],[2011.76,9.9],[2011.85,8.5],[2011.93,7.4],[2012.02,9.9],[2012.10,10.7],[2012.18,12.9],[2012.27,8.5],[2012.35,7.7],[2012.44,9.9],[2012.52,11.4],[2012.61,9.9],[2012.69,8.5],[2012.77,9.2],[2012.86,9.6],[2012.94,5.5],[2013.03,8.5],[2013.11,9.2],[2013.19,10.7],[2013.28,11.8],[2013.36,11.8],[2013.45,12.5],[2013.53,9.9],[2013.61,8.5],[2013.70,5.5],[2013.78,3.7],[2013.87,4],[2013.95,2.9],[2014.03,6.3],[2014.12,7],[2014.20,7.7],[2014.29,8.8],[2014.37,5.5],[2014.45,5.1],[2014.54,4.8],[2014.62,4],[2014.71,2.2],[2014.79,0.4],[2014.87,1.1],[2014.96,2.6],[2015.04,4.8],[2015.13,2.2],[2015.21,5.9],[2015.29,7.7],[2015.38,4],[2015.46,1.8],[2015.55,-1.1],[2015.63,-2.6],[2015.71,-0.4],[2015.82,1.5]];

const vistFGOALS = [[2006.86,0],[2006.94,0.7],[2007.02,1.8],[2007.10,6.3],[2007.19,9.9],[2007.27,9.6],[2007.35,7.7],[2007.44,8.5],[2007.52,7.7],[2007.61,4.8],[2007.69,1.1],[2007.77,-2.6],[2007.86,-7],[2007.94,-11],[2008.02,-8.5],[2008.11,-1.8],[2008.19,4.8],[2008.27,9.9],[2008.36,9.2],[2008.44,8.5],[2008.52,6.3],[2008.60,4.8],[2008.69,1.8],[2008.77,-1.1],[2008.85,-4],[2008.94,-5.5],[2009.02,-5.5],[2009.10,0.4],[2009.19,8.5],[2009.27,12.1],[2009.35,9.9],[2009.44,11.4],[2009.52,12.5],[2009.60,8.5],[2009.69,4],[2009.77,1.8],[2009.85,1.1],[2009.94,3.3],[2010.03,6.3],[2010.11,10.7],[2010.19,15.1],[2010.27,15.1],[2010.36,16.5],[2010.44,19.1],[2010.52,15.1],[2010.61,12.1],[2010.69,9.9],[2010.78,4.8],[2010.86,6.5],[2010.94,7.5],[2011.01,7.7],[2011.09,8.5],[2011.18,9.9],[2011.26,12.1],[2011.34,12.1],[2011.43,12.5],[2011.51,12.1],[2011.60,8.5],[2011.68,4],[2011.76,0.4],[2011.85,-4.8],[2011.93,-7],[2012.02,-5.5],[2012.10,1.1],[2012.18,7.7],[2012.27,5.9],[2012.35,7],[2012.44,7.7],[2012.52,4],[2012.61,1.8],[2012.69,0.4],[2012.77,-1.8],[2012.86,-3.7],[2012.94,-5.5],[2013.03,-4],[2013.11,-0.4],[2013.19,4.8],[2013.28,9.2],[2013.36,11.4],[2013.45,12.1],[2013.53,8.5],[2013.61,4],[2013.70,0.4],[2013.78,-2.6],[2013.87,-5.5],[2013.95,-7.7],[2014.03,-5.5],[2014.12,1.1],[2014.20,4],[2014.29,4.4],[2014.37,4.4],[2014.45,4],[2014.54,3.3],[2014.62,0.4],[2014.71,-4],[2014.79,-8.5],[2014.87,-10.7],[2014.96,-12.5],[2015.04,-10.7],[2015.13,-8.5],[2015.21,0.4],[2015.29,3.3],[2015.38,3.3],[2015.46,1.8],[2015.55,-1.8],[2015.63,-7],[2015.71,-12.1],[2015.82,-16.5]];
const vistGFDL = [[2006.86,0],[2006.94,-0.4],[2007.02,0.4],[2007.10,1.8],[2007.19,2.6],[2007.27,1.1],[2007.35,-0.4],[2007.44,1.8],[2007.52,2.6],[2007.61,3.3],[2007.69,3.3],[2007.77,1.8],[2007.86,1.8],[2007.94,0.4],[2008.02,-3.3],[2008.11,-1.1],[2008.19,-0.4],[2008.27,-1.1],[2008.36,-4],[2008.44,-4.8],[2008.52,-4],[2008.60,-3.3],[2008.69,-7],[2008.77,-7.7],[2008.85,-8.5],[2008.94,-9.2],[2009.02,-10.7],[2009.10,-9.2],[2009.19,-5.5],[2009.27,-4],[2009.35,-8.5],[2009.44,-5.5],[2009.52,-2.6],[2009.60,-4],[2009.69,-6.3],[2009.77,-4.8],[2009.85,-3.3],[2009.94,-1.1],[2010.03,1.8],[2010.11,1.1],[2010.19,-0.4],[2010.27,1.1],[2010.36,5.5],[2010.44,9.9],[2010.52,8.5],[2010.61,9.6],[2010.69,6.3],[2010.78,1.8],[2010.86,4],[2010.94,6.3],[2011.01,7],[2011.09,7],[2011.18,1.8],[2011.26,1.8],[2011.34,-0.4],[2011.43,1.8],[2011.51,4.8],[2011.60,9.2],[2011.68,4.8],[2011.76,1.8],[2011.85,-1.1],[2011.93,-2.6],[2012.02,-1.1],[2012.10,-0.4],[2012.18,-0.4],[2012.27,-2.6],[2012.35,-3.3],[2012.44,-2.9],[2012.52,-5.5],[2012.61,-4],[2012.69,-1.8],[2012.77,-3.3],[2012.86,-4.8],[2012.94,-6.6],[2013.03,-6.3],[2013.11,-6.6],[2013.19,-4.8],[2013.28,-2.6],[2013.36,-1.1],[2013.45,1.8],[2013.53,3.3],[2013.61,4.8],[2013.70,4],[2013.78,3.3],[2013.87,1.8],[2013.95,-0.4],[2014.03,-0.4],[2014.12,0],[2014.20,0.4],[2014.29,1.1],[2014.37,-0.4],[2014.45,1.8],[2014.54,2.6],[2014.62,3.7],[2014.71,4],[2014.79,3.3],[2014.87,2.6],[2014.96,2.6],[2015.04,3.7],[2015.13,2.6],[2015.21,3.3],[2015.29,2.6],[2015.38,3.3],[2015.46,2.6],[2015.55,1.1],[2015.63,0.7],[2015.71,0],[2015.82,-0.4]];
const vistGISS = [[2006.86,0],[2006.94,-2.6],[2007.02,-7.7],[2007.10,-5.5],[2007.19,-4.8],[2007.27,-4.8],[2007.35,-4.4],[2007.44,-4],[2007.52,-2.6],[2007.61,1.1],[2007.69,2.6],[2007.77,-1.1],[2007.86,-4.8],[2007.94,-7.7],[2008.02,-12.9],[2008.06,-16.2],[2008.15,-12.9],[2008.23,-8.5],[2008.32,-4.8],[2008.40,-5.5],[2008.48,-4],[2008.57,-4.8],[2008.65,-8.5],[2008.73,-11.4],[2008.82,-12.9],[2008.90,-13.6],[2008.98,-15.8],[2009.07,-17.3],[2009.13,-18.8],[2009.22,-15.1],[2009.30,-12.1],[2009.38,-9.9],[2009.47,-8.5],[2009.55,-5.5],[2009.63,-3.3],[2009.72,-7],[2009.80,-8.5],[2009.88,-9.2],[2009.97,-9.9],[2010.05,-9.9],[2010.13,-9.9],[2010.21,-10.7],[2010.30,-9.9],[2010.38,-7],[2010.47,-1.1],[2010.55,-2.6],[2010.63,-1.8],[2010.71,-4],[2010.80,-8.5],[2010.88,-8],[2010.94,-7],[2011.01,-9.2],[2011.09,-9.9],[2011.18,-12.9],[2011.26,-9.9],[2011.34,-9.2],[2011.43,-2.6],[2011.51,3.3],[2011.60,8.5],[2011.68,1.8],[2011.76,-4],[2011.85,-9.9],[2011.93,-13.6],[2012.02,-15.1],[2012.10,-13.6],[2012.18,-9.9],[2012.27,-12.1],[2012.35,-11.4],[2012.44,-10.7],[2012.52,-9.9],[2012.61,-8.8],[2012.69,-7.7],[2012.77,-7],[2012.86,-9.2],[2012.94,-12.1],[2013.03,-12.9],[2013.11,-15.8],[2013.19,-10.7],[2013.28,-5.5],[2013.36,-5.5],[2013.45,-1.1],[2013.53,1.1],[2013.61,3.3],[2013.70,-0.4],[2013.78,-1.1],[2013.87,-3.3],[2013.95,-5.5],[2014.03,-8.5],[2014.12,-9.9],[2014.20,-10.7],[2014.29,-11],[2014.37,-9.9],[2014.45,-7],[2014.54,-4.4],[2014.62,-4.8],[2014.71,-7],[2014.79,-9.2],[2014.87,-10.7],[2014.96,-10.7],[2015.04,-9.9],[2015.13,-14.3],[2015.21,-12.9],[2015.29,-10.7],[2015.38,-9.2],[2015.46,-5.5],[2015.55,-1.1],[2015.63,-1.1],[2015.71,-1.8],[2015.82,-2.6]];
const vistINMCM4 = [[2006.86,0],[2006.94,-2.6],[2007.02,-4.8],[2007.10,-2.6],[2007.19,-1.8],[2007.27,-2.6],[2007.35,-4],[2007.44,-5.5],[2007.52,-1.8],[2007.61,1.8],[2007.69,3.3],[2007.77,-0.4],[2007.86,-4],[2007.94,-7],[2008.02,-9.2],[2008.11,-7.7],[2008.19,-7],[2008.27,-4.8],[2008.36,-2.6],[2008.44,-1.1],[2008.52,1.1],[2008.60,2.9],[2008.69,1.1],[2008.77,-1.1],[2008.85,-4],[2008.94,-7],[2009.02,-7],[2009.10,-7.7],[2009.19,-9.2],[2009.27,-12.9],[2009.35,-18],[2009.44,-12.9],[2009.52,-7],[2009.60,-4.8],[2009.69,-7],[2009.77,-7],[2009.85,-8.5],[2009.94,-9.2],[2010.03,-8.5],[2010.11,-7],[2010.19,-7],[2010.27,-5.5],[2010.36,-4],[2010.44,1.1],[2010.52,1.8],[2010.61,3.3],[2010.69,4],[2010.78,-1.8],[2010.86,-4],[2010.92,0.4],[2011.01,-1.1],[2011.09,-2.6],[2011.18,-9.2],[2011.26,-9.9],[2011.34,-11.4],[2011.43,-6.3],[2011.51,-1.1],[2011.60,4.8],[2011.68,-1.1],[2011.76,-4],[2011.85,-7.7],[2011.93,-14.3],[2012.02,-18.8],[2012.10,-20.2],[2012.18,-14.3],[2012.27,-13.6],[2012.35,-11.4],[2012.44,-8.5],[2012.52,-5.5],[2012.61,-3.3],[2012.69,-4],[2012.77,-6.3],[2012.86,-8.5],[2012.94,-12.9],[2013.03,-11.4],[2013.11,-12.9],[2013.19,-12.1],[2013.28,-11.4],[2013.36,-10.7],[2013.45,-5.5],[2013.53,-4],[2013.61,-2.2],[2013.70,-4],[2013.78,-8.5],[2013.87,-9.2],[2013.95,-10.7],[2014.03,-11.4],[2014.12,-13.6],[2014.20,-13.6],[2014.29,-12.1],[2014.37,-11.8],[2014.45,-4.8],[2014.54,-2.6],[2014.62,-2.2],[2014.71,-1.8],[2014.79,-3.3],[2014.87,-4],[2014.96,-5.5],[2015.04,-7],[2015.13,-8.5],[2015.21,-7.7],[2015.29,-7],[2015.38,-5.5],[2015.46,-1.1],[2015.55,-1.1],[2015.63,-2.6],[2015.71,-5.5],[2015.82,-7]];
const vistMIROC5 = [[2006.86,0],[2006.94,-0.4],[2007.02,1.1],[2007.10,2.6],[2007.19,4.8],[2007.27,5.5],[2007.35,4],[2007.44,3.3],[2007.52,5.5],[2007.61,8.5],[2007.71,9.9],[2007.79,9.2],[2007.88,7.7],[2007.96,5.5],[2008.04,3.3],[2008.13,4.8],[2008.21,7.7],[2008.29,7],[2008.38,4],[2008.46,1.1],[2008.54,0.4],[2008.63,-0.4],[2008.71,-1.1],[2008.79,-4],[2008.88,-7.7],[2008.96,-8.5],[2009.04,-9.2],[2009.13,-8.5],[2009.21,-3.3],[2009.29,-2.6],[2009.38,0.4],[2009.46,1.8],[2009.55,2.6],[2009.63,3.3],[2009.72,0.4],[2009.80,1.8],[2009.88,4],[2009.97,6.3],[2010.05,8.5],[2010.13,9.9],[2010.21,9.2],[2010.30,7.7],[2010.38,9.2],[2010.44,12.9],[2010.52,10.7],[2010.61,13.6],[2010.69,12.1],[2010.78,10.7],[2010.86,12.1],[2010.94,14.3],[2011.01,13.6],[2011.09,13.6],[2011.18,9.9],[2011.26,9.2],[2011.34,6.6],[2011.43,8.5],[2011.51,9.2],[2011.60,14.7],[2011.68,9.9],[2011.76,6.3],[2011.85,3.3],[2011.93,1.1],[2012.02,1.1],[2012.10,-1.8],[2012.18,1.8],[2012.27,1.1],[2012.35,0.4],[2012.44,1.8],[2012.52,2.6],[2012.61,1.8],[2012.69,-1.1],[2012.77,2.6],[2012.86,3.7],[2012.94,3.3],[2013.03,15.8],[2013.11,15.1],[2013.19,17.3],[2013.28,18],[2013.36,16.5],[2013.45,18.8],[2013.53,18.4],[2013.61,18.8],[2013.70,17.6],[2013.78,16.5],[2013.87,15.8],[2013.95,12.1],[2014.03,13.2],[2014.12,12.1],[2014.20,11.4],[2014.29,11],[2014.37,11.4],[2014.45,12.9],[2014.54,12.1],[2014.62,11.4],[2014.71,8.5],[2014.79,5.5],[2014.87,5.5],[2014.96,5.1],[2015.04,5.9],[2015.13,4],[2015.21,5.5],[2015.29,7.4],[2015.38,4],[2015.46,2.6],[2015.55,3.3],[2015.63,2.2],[2015.71,1.8],[2015.82,2.6]];
const vistMPI = [[2006.86,0],[2006.94,0.7],[2007.02,2.6],[2007.10,7],[2007.19,9.2],[2007.27,8.5],[2007.35,4.8],[2007.44,1.8],[2007.52,2.6],[2007.61,6.3],[2007.69,7.7],[2007.77,5.5],[2007.86,2.6],[2007.94,1.1],[2008.02,0.4],[2008.11,3.3],[2008.19,6.3],[2008.27,9.2],[2008.36,8.5],[2008.44,5.5],[2008.52,8.5],[2008.60,12.1],[2008.69,7.7],[2008.77,4],[2008.85,3.7],[2008.94,3.7],[2009.02,1.8],[2009.10,4],[2009.19,7.7],[2009.27,11.4],[2009.35,9.9],[2009.44,10.3],[2009.52,9.2],[2009.60,6.3],[2009.69,3.3],[2009.77,1.8],[2009.85,1.1],[2009.94,3.3],[2010.03,7],[2010.11,8.5],[2010.19,8.5],[2010.27,9.2],[2010.36,14.3],[2010.44,16.5],[2010.52,16.5],[2010.61,15.1],[2010.69,13.6],[2010.78,10.7],[2010.86,11.4],[2010.94,13.6],[2011.01,13.6],[2011.09,14.3],[2011.18,12.5],[2011.26,11.8],[2011.34,10.7],[2011.43,9.9],[2011.51,9.2],[2011.60,10.7],[2011.68,7],[2011.76,4.8],[2011.85,2.6],[2011.93,1.1],[2012.02,3.3],[2012.10,6.3],[2012.18,9.9],[2012.27,7.7],[2012.35,7],[2012.44,8.1],[2012.52,6.3],[2012.61,4.8],[2012.69,3.7],[2012.77,4],[2012.86,3.7],[2012.94,2.9],[2013.03,4.8],[2013.11,7],[2013.19,8.5],[2013.28,12.5],[2013.36,9.9],[2013.45,12.5],[2013.53,11.4],[2013.61,8.5],[2013.70,4.8],[2013.78,1.8],[2013.87,2.6],[2013.95,1.1],[2014.03,4.4],[2014.12,5.5],[2014.20,6.6],[2014.29,7.7],[2014.37,7],[2014.45,6.6],[2014.54,5.5],[2014.62,3.3],[2014.71,1.5],[2014.79,-1.1],[2014.87,-2.6],[2014.96,-1.1],[2015.04,1.1],[2015.13,-0.4],[2015.21,3.3],[2015.27,5.9],[2015.36,1.8],[2015.44,-0.4],[2015.53,-2.6],[2015.61,-5.5],[2015.69,-2.9],[2015.82,-1.8]];

// ---------- styling ----------
const gldasColors = ['#000000','#ff0000','#0000ff','#00ff00','#a52a2a'];
const cmipColors = ['#000000','#00ffff','#ffa500','#ff1493','#4b0082','#006400','#808080'];
const FONT = '"Liberation Sans", Arial, Helvetica, sans-serif';
const AXIS = '#262626', TXT = '#262626', GRID = '#c8c8c8';
Chart.defaults.font.family = FONT;

const lineLegend = {
  id: 'lineLegend',
  beforeDatasetsDraw(chart, args, opts) {
    const {ctx, chartArea} = chart;
    ctx.save();
    ctx.font = '19.5px ' + FONT;
    ctx.textBaseline = 'middle';
    ctx.textAlign = 'left';
    chart.data.datasets.forEach((ds, i) => {
      const y = chartArea.top + opts.top + i * opts.gap;
      ctx.strokeStyle = ds.borderColor;
      ctx.lineWidth = 5;
      ctx.beginPath();
      ctx.moveTo(chartArea.left + 3, y);
      ctx.lineTo(chartArea.left + 49.5, y);
      ctx.stroke();
      ctx.fillStyle = TXT;
      ctx.fillText(ds.label, chartArea.left + 51.5, y + 1);
    });
    ctx.restore();
  }
};

function build(id, W, H, P, title, labels, colors, series) {
  const n = series.length;
  const datasets = series.map((s, i) => ({
    label: labels[i],
    data: s.map(p => ({x: p[0], y: p[1]})),
    borderColor: colors[i],
    backgroundColor: colors[i],
    borderWidth: 4.5,
    pointRadius: 0,
    pointHoverRadius: 0,
    fill: false,
    tension: 0,
    borderJoinStyle: 'round',
    order: n - i
  }));
  const tickMarks = {tickLength: -8, tickColor: AXIS, tickWidth: 2};
  const borderOpt = {display: true, color: AXIS, width: 3, dash: [4, 5.3], z: 1};
  const setYears = s => { s.ticks = yearTicks.map(v => ({value: v})); };
  const setCm = s => { s.ticks = cmTicks.map(v => ({value: v})); };
  return new Chart(document.getElementById(id), {
    type: 'line',
    data: {datasets},
    plugins: [lineLegend],
    options: {
      responsive: true,
      maintainAspectRatio: false,
      animation: false,
      events: [],
      layout: {padding: 0},
      plugins: {
        legend: {display: false},
        tooltip: {enabled: false},
        title: {display: false},
        lineLegend: {top: 21, gap: 25.3}
      },
      scales: {
        x: {
          type: 'linear', position: 'bottom', min: 2005, max: 2016,
          afterBuildTicks: setYears,
          afterFit: s => { s.height = H - P.b; },
          grid: Object.assign({color: GRID, lineWidth: 2.5, drawOnChartArea: true, drawTicks: true}, tickMarks),
          border: borderOpt,
          ticks: {autoSkip: false, maxRotation: 0, minRotation: 0, padding: 17, color: TXT, font: {size: 28}, callback: v => String(v)},
          title: {display: true, text: '(year)', color: TXT, font: {size: 28}, padding: {top: 0, bottom: 0}}
        },
        x2: {
          type: 'linear', position: 'top', min: 2005, max: 2016,
          afterBuildTicks: setYears,
          afterFit: s => { s.height = P.t; },
          grid: Object.assign({color: GRID, lineWidth: 2.5, drawOnChartArea: false, drawTicks: true}, tickMarks),
          border: borderOpt,
          ticks: {display: false},
          title: {display: true, text: title, color: '#000', font: {size: 28, weight: 'bold'}, padding: {top: 5, bottom: 0}}
        },
        y: {
          type: 'linear', position: 'left', min: -25, max: 45,
          afterBuildTicks: setCm,
          afterFit: s => { s.width = P.l; },
          grid: Object.assign({color: GRID, lineWidth: 2.5, drawOnChartArea: true, drawTicks: true}, tickMarks),
          border: borderOpt,
          ticks: {padding: 18, color: TXT, font: {size: 28}, callback: v => String(v)},
          title: {display: true, text: '(cm)', color: TXT, font: {size: 28}, padding: {top: 10.7, bottom: 0}}
        },
        y2: {
          type: 'linear', position: 'right', min: -25, max: 45,
          afterBuildTicks: setCm,
          afterFit: s => { s.width = W - P.r; },
          grid: Object.assign({color: GRID, lineWidth: 2.5, drawOnChartArea: false, drawTicks: true}, tickMarks),
          border: borderOpt,
          ticks: {display: false}
        }
      }
    }
  });
}

build('ca', 1109, 442, {l: 93.5, r: 970, t: 45, b: 362}, panelTitles[0], gldasLabels, gldasColors,
      [odraWells, odraCLM, odraMOSAIC, odraNOAH, odraVIC]);
build('cc', 1022, 442, {l: 93, r: 969, t: 45, b: 362}, panelTitles[2], gldasLabels, gldasColors,
      [vistWells, vistCLM, vistMOSAIC, vistNOAH, vistVIC]);
build('cb', 1109, 435, {l: 93.5, r: 970, t: 43, b: 360}, panelTitles[1], cmipLabels, cmipColors,
      [odraWells, odraFGOALS, odraGFDL, odraGISS, odraINMCM4, odraMIROC5, odraMPI]);
build('cd', 1022, 435, {l: 93, r: 969, t: 43, b: 360}, panelTitles[3], cmipLabels, cmipColors,
      [vistWells, vistFGOALS, vistGFDL, vistGISS, vistINMCM4, vistMIROC5, vistMPI]);
</script>
</body>
</html>
